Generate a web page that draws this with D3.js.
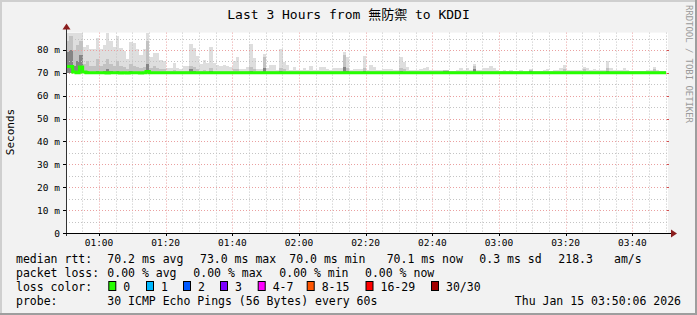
<!DOCTYPE html>
<html><head><meta charset="utf-8">
<script src="https://cdn.jsdelivr.net/npm/d3@7/dist/d3.min.js"></script>
<style>
html,body{margin:0;padding:0;background:#f2f2f2;}
svg{display:block;}
text{font-family:"DejaVu Sans Mono","Noto Sans CJK TC",monospace;fill:#000;}
</style></head><body>
<svg id="chart" width="697" height="315"></svg>
<script>
// ---------- data ----------
const titleText = "Last 3 Hours from 無防禦 to KDDI";
const yAxisTitle = "Seconds";
const watermark = "RRDTOOL / TOBI OETIKER";
const startTime = "2026-01-15T00:50:06Z";
const endTime = "2026-01-15T03:50:06Z";
const yTickValues = [0, 10, 20, 30, 40, 50, 60, 70, 80];
const yTickLabels = ["0", "10 m", "20 m", "30 m", "40 m", "50 m", "60 m", "70 m", "80 m"];
const yMinorValues = [5, 15, 25, 35, 45, 55, 65, 75, 85];

// per-minute ping distribution (ms), 180 one-minute steps
const smokeMax = [
 87.6, 87.6, 87.6, 87.6, 87.6, 81.5, 82.2, 80.5, 80.5, 85.4,
 80.5, 82.0, 87.6, 84.0, 81.5, 86.0, 80.7, 79.4, 76.0, 83.5,
 83.0, 80.5, 78.0, 80.5, 87.6, 77.0, 78.5, 78.5, 75.5, 75.3,
 72.1, 72.1, 74.2, 72.1, 71.8, 73.0, 73.0, 82.7, 80.8, 77.2,
 73.8, 75.6, 74.3, 81.2, 74.5, 73.5, 73.0, 73.4, 73.0, 72.4,
 75.0, 77.0, 71.5, 71.5, 72.6, 82.8, 76.6, 71.9, 71.8, 78.2,
 72.0, 73.4, 73.4, 71.3, 80.5, 74.9, 73.4, 71.3, 72.6, 71.3,
 71.3, 72.0, 71.3, 73.0, 71.3, 71.3, 72.6, 72.6, 71.9, 71.3,
 72.0, 72.0, 72.0, 79.3, 77.1, 71.3, 71.9, 71.6, 71.6, 77.5,
 71.3, 73.4, 72.6, 71.3, 71.3, 71.6, 71.9, 71.6, 71.3, 71.3,
 77.1, 74.9, 72.6, 71.3, 71.3, 71.3, 71.9, 72.0, 72.6, 71.3,
 71.3, 71.3, 71.3, 71.4, 71.4, 71.0, 71.0, 71.3, 72.0, 71.3,
 72.1, 71.3, 73.8, 71.3, 71.3, 72.0, 72.0, 73.0, 72.1, 71.3,
 70.6, 71.3, 70.6, 71.3, 71.0, 71.0, 71.3, 71.0, 70.6, 71.6,
 71.0, 71.0, 71.0, 71.3, 71.6, 71.0, 71.3, 71.3, 72.0, 73.4,
 71.3, 71.3, 71.3, 71.3, 71.3, 72.6, 72.0, 71.3, 71.6, 71.3,
 71.3, 71.3, 75.3, 72.0, 71.3, 71.3, 71.3, 72.0, 71.3, 70.6,
 70.6, 71.0, 70.6, 70.6, 71.3, 71.3, 72.6, 71.3, 71.0, 70.6
];
const smokeMid = [
 84.0, 86.0, 80.0, 82.0, 84.0, 74.0, 75.0, 73.0, 73.0, 76.0,
 73.0, 74.0, 76.0, 74.0, 73.0, 75.0, 73.0, 72.5, 71.5, 74.0,
 73.0, 72.5, 72.0, 72.5, 84.0, 72.0, 73.0, 72.0, 71.5, 71.5,
 70.8, 70.8, 71.2, 70.8, 70.8, 71.0, 71.0, 73.0, 72.5, 71.5,
 71.0, 71.2, 71.0, 72.0, 71.0, 71.0, 71.0, 71.0, 71.0, 71.0,
 71.5, 71.5, 70.8, 70.8, 71.0, 72.5, 71.5, 70.8, 70.8, 77.0,
 70.8, 71.0, 71.0, 70.8, 72.0, 71.5, 71.0, 70.8, 71.0, 70.8,
 70.8, 70.8, 70.8, 71.0, 70.8, 70.8, 71.0, 71.0, 70.8, 70.8,
 71.0, 71.0, 71.0, 78.0, 72.0, 70.8, 70.8, 70.8, 70.8, 72.0,
 70.8, 71.0, 71.0, 70.8, 70.8, 70.8, 70.8, 70.8, 70.8, 70.8,
 72.0, 71.5, 71.0, 70.8, 70.8, 70.8, 70.8, 71.0, 71.0, 70.8,
 70.8, 70.8, 70.8, 71.3, 71.3, 70.8, 70.8, 70.8, 71.0, 70.8,
 71.0, 70.8, 73.0, 70.8, 70.8, 71.0, 71.0, 71.0, 71.0, 70.8,
 70.6, 70.8, 70.6, 70.8, 70.8, 70.8, 70.8, 70.8, 70.6, 71.3,
 70.8, 70.8, 70.8, 70.8, 71.0, 70.8, 70.8, 70.8, 71.0, 71.5,
 70.8, 70.8, 70.8, 70.8, 70.8, 71.5, 71.0, 70.8, 71.0, 70.8,
 70.8, 70.8, 72.0, 71.0, 70.8, 70.8, 70.8, 71.0, 70.8, 70.6,
 70.6, 70.8, 70.6, 70.6, 70.8, 70.8, 71.5, 70.8, 70.8, 70.6
];
const smokeLow = [
 79.0, 80.0, 73.0, 75.0, 78.0, 71.0, 71.0, 70.5, 70.5, 71.0,
 70.5, 71.0, 71.5, 71.0, 70.5, 71.0, 70.5, 70.5, 70.5, 71.0,
 70.5, 70.5, 70.5, 70.5, 74.0, 70.5, 70.5, 70.5, 70.5, 70.5,
 70.5, 70.5, 70.5, 70.5, 70.5, 70.5, 70.5, 71.5, 71.0, 70.5,
 70.5, 70.5, 70.5, 71.0, 70.5, 70.5, 70.5, 70.5, 70.5, 70.5,
 70.5, 70.5, 70.5, 70.5, 70.5, 71.0, 70.5, 70.5, 70.5, 72.0,
 70.5, 70.5, 70.5, 70.5, 71.0, 70.5, 70.5, 70.5, 70.5, 70.5,
 70.5, 70.5, 70.5, 70.5, 70.5, 70.5, 70.5, 70.5, 70.5, 70.5,
 70.5, 70.5, 70.5, 72.5, 71.0, 70.5, 70.5, 70.5, 70.5, 71.0,
 70.5, 70.5, 70.5, 70.5, 70.5, 70.5, 70.5, 70.5, 70.5, 70.5,
 71.0, 70.5, 70.5, 70.5, 70.5, 70.5, 70.5, 70.5, 70.5, 70.5,
 70.5, 70.5, 70.5, 71.0, 71.0, 70.5, 70.5, 70.5, 70.5, 70.5,
 70.5, 70.5, 71.5, 70.5, 70.5, 70.5, 70.5, 70.5, 70.5, 70.5,
 70.5, 70.5, 70.5, 70.5, 70.5, 70.5, 70.5, 70.5, 70.5, 71.0,
 70.5, 70.5, 70.5, 70.5, 70.5, 70.5, 70.5, 70.5, 70.5, 70.5,
 70.5, 70.5, 70.5, 70.5, 70.5, 70.5, 70.5, 70.5, 70.5, 70.5,
 70.5, 70.5, 71.0, 70.5, 70.5, 70.5, 70.5, 70.5, 70.5, 70.5,
 70.5, 70.5, 70.5, 70.5, 70.5, 70.5, 70.5, 70.5, 70.5, 70.5
];
const smokeMin = [
 70.0, 70.1, 70.0, 69.9, 70.0, 70.0, 70.0, 70.0, 70.0, 70.0,
 70.0, 70.0, 69.9, 70.0, 70.0, 70.0, 69.9, 70.0, 69.9, 70.0,
 70.0, 70.0, 69.9, 70.0, 70.0, 70.0, 70.0, 70.0, 70.0, 70.0,
 70.0, 70.0, 70.0, 70.0, 70.0, 70.0, 70.0, 70.0, 70.0, 70.0,
 70.0, 70.0, 70.0, 70.0, 70.0, 70.0, 70.0, 70.0, 70.0, 70.0,
 70.0, 70.0, 70.0, 70.0, 70.0, 70.0, 70.0, 70.0, 70.0, 70.0,
 70.0, 70.0, 70.0, 70.0, 70.0, 70.0, 70.0, 70.0, 70.0, 70.0,
 70.0, 70.0, 70.0, 70.0, 70.0, 70.0, 70.0, 70.0, 70.0, 70.0,
 70.0, 70.0, 70.0, 70.0, 70.0, 70.0, 70.0, 70.0, 70.0, 70.0,
 70.0, 70.0, 70.0, 70.0, 70.0, 70.0, 70.0, 70.0, 70.0, 70.0,
 70.0, 70.0, 70.0, 70.0, 70.0, 70.0, 70.0, 70.0, 70.0, 70.0,
 70.0, 70.0, 70.0, 70.0, 70.0, 70.0, 70.0, 70.0, 70.0, 70.0,
 70.0, 70.0, 70.0, 70.0, 70.0, 70.0, 70.0, 70.0, 70.0, 70.0,
 70.0, 70.0, 70.0, 70.0, 70.0, 70.0, 70.0, 70.0, 70.0, 70.0,
 70.0, 70.0, 70.0, 70.0, 70.0, 70.0, 70.0, 70.0, 70.0, 70.0,
 70.0, 70.0, 70.0, 70.0, 70.0, 70.0, 70.0, 70.0, 70.0, 70.0,
 70.0, 70.0, 70.0, 70.0, 70.0, 70.0, 70.0, 70.0, 70.0, 70.0,
 70.0, 70.0, 70.0, 70.0, 70.0, 70.0, 70.0, 70.0, 70.0, 70.0
];
const medianRtt = [
 72.8, 72.8, 70.4, 70.0, 72.6, 70.4, 70.0, 70.0, 70.0, 70.0,
 70.0, 70.0, 69.9, 70.0, 70.0, 70.0, 69.9, 70.0, 69.9, 70.0,
 70.0, 70.0, 69.9, 70.0, 70.6, 70.0, 70.0, 70.0, 70.0, 70.0,
 70.0, 70.0, 70.0, 70.0, 70.0, 70.0, 70.0, 70.0, 70.0, 70.0,
 70.0, 70.0, 70.0, 70.0, 70.0, 70.0, 70.0, 70.0, 70.0, 70.0,
 70.0, 70.0, 70.0, 70.0, 70.0, 70.0, 70.0, 70.0, 70.0, 70.0,
 70.0, 70.0, 70.0, 70.0, 70.0, 70.0, 70.0, 70.0, 70.0, 70.0,
 70.0, 70.0, 70.0, 70.0, 70.0, 70.0, 70.0, 70.0, 70.0, 70.0,
 70.0, 70.0, 70.0, 70.0, 70.0, 70.0, 70.0, 70.0, 70.0, 70.0,
 70.0, 70.0, 70.0, 70.0, 70.0, 70.0, 70.0, 70.0, 70.0, 70.0,
 70.0, 70.0, 70.0, 70.0, 70.0, 70.0, 70.0, 70.0, 70.0, 70.0,
 70.0, 70.0, 70.0, 70.0, 70.0, 70.0, 70.0, 70.0, 70.0, 70.0,
 70.0, 70.0, 70.0, 70.0, 70.0, 70.0, 70.0, 70.0, 70.0, 70.0,
 70.0, 70.0, 70.0, 70.0, 70.0, 70.0, 70.0, 70.0, 70.0, 70.0,
 70.0, 70.0, 70.0, 70.0, 70.0, 70.0, 70.0, 70.0, 70.0, 70.0,
 70.0, 70.0, 70.0, 70.0, 70.0, 70.0, 70.0, 70.0, 70.0, 70.0,
 70.0, 70.0, 70.0, 70.0, 70.0, 70.0, 70.0, 70.0, 70.0, 70.0,
 70.0, 70.0, 70.0, 70.0, 70.0, 70.0, 70.0, 70.0, 70.0, 70.1
];

// legend content
const legendRows = [
  {label: "median rtt:", items: ["70.2 ms avg", "73.0 ms max", "70.0 ms min", "70.1 ms now", "0.3 ms sd", "218.3", "am/s"]},
  {label: "packet loss:", items: ["0.00 % avg", "0.00 % max", "0.00 % min", "0.00 % now"]},
  {label: "probe:", items: ["30 ICMP Echo Pings (56 Bytes) every 60s"]}
];
const lossLabels = ["0", "1", "2", "3", "4-7", "8-15", "16-29", "30/30"];
const lossColors = ["#26ff00", "#00b8ff", "#0059ff", "#7e00ff", "#ff00ff", "#ff5500", "#ff0000", "#a10000"];
const dateStamp = "Thu Jan 15 03:50:06 2026";

// ---------- layout ----------
const W = 697, H = 315;
const plot = {left: 66, right: 666, top: 32.6, bottom: 233};
const svg = d3.select("#chart");

const t0 = new Date(startTime), t1 = new Date(endTime);
const x = d3.scaleUtc().domain([t0, t1]).range([plot.left, plot.right]);
const y = d3.scaleLinear().domain([0, 87.6]).range([plot.bottom, plot.top]);
const colTimes = d3.range(smokeMax.length + 1).map(i => new Date(+t0 + i * 60000));

// background + 3D frame
svg.append("rect").attr("width", W).attr("height", H).attr("fill", "#f2f2f2");
svg.append("path").attr("d", `M0,${H} V0 H${W}`).attr("fill", "none").attr("stroke", "#cfcfcf").attr("stroke-width", 4);
svg.append("path").attr("d", `M0,${H} H${W} V0`).attr("fill", "none").attr("stroke", "#9e9e9e").attr("stroke-width", 4);

// canvas
svg.append("rect").attr("x", plot.left).attr("y", plot.top)
  .attr("width", plot.right - plot.left + 2).attr("height", plot.bottom - plot.top).attr("fill", "#fff");

// smoke
const smoke = svg.append("g").attr("shape-rendering", "crispEdges");
const layers = [
  {top: smokeMax, color: "#dedede"},
  {top: smokeMid, color: "#c2c2c2"},
  {top: smokeLow, color: "#858585"}
];
layers.forEach(L => {
  smoke.append("g").selectAll("rect").data(L.top).join("rect")
    .attr("x", (d, i) => x(colTimes[i]))
    .attr("width", (d, i) => x(colTimes[i + 1]) - x(colTimes[i]))
    .attr("y", d => y(d))
    .attr("height", (d, i) => Math.max(0, y(smokeMin[i]) - y(d)))
    .attr("fill", L.color);
});

// grid
const grid = svg.append("g");
const minorTimes = d3.utcMinute.every(5).range(t0, t1).filter(d => d.getUTCMinutes() % 20 !== 0);
const majorTimes = d3.utcMinute.every(20).range(t0, t1);
grid.selectAll(".vmin").data(minorTimes).join("line")
  .attr("x1", d => Math.round(x(d)) + 0.5).attr("x2", d => Math.round(x(d)) + 0.5)
  .attr("y1", plot.top).attr("y2", plot.bottom)
  .attr("stroke", "#c4c4c4").attr("stroke-dasharray", "1,2");
grid.selectAll(".hmin").data(yMinorValues).join("line")
  .attr("x1", plot.left).attr("x2", plot.right + 2)
  .attr("y1", d => Math.round(y(d)) + 0.5).attr("y2", d => Math.round(y(d)) + 0.5)
  .attr("stroke", "#c4c4c4").attr("stroke-dasharray", "1,2");
grid.selectAll(".vmaj").data(majorTimes).join("line")
  .attr("x1", d => Math.round(x(d)) + 0.5).attr("x2", d => Math.round(x(d)) + 0.5)
  .attr("y1", plot.top).attr("y2", plot.bottom)
  .attr("stroke", "#eaa0a0").attr("stroke-dasharray", "1,2");
grid.selectAll(".hmaj").data(yTickValues.slice(1)).join("line")
  .attr("x1", plot.left).attr("x2", plot.right + 2)
  .attr("y1", d => Math.round(y(d)) + 0.5).attr("y2", d => Math.round(y(d)) + 0.5)
  .attr("stroke", "#eaa0a0").attr("stroke-dasharray", "1,2");
// right-end ticks
grid.selectAll(".rt").data(yTickValues.slice(1)).join("line")
  .attr("x1", plot.right + 1).attr("x2", plot.right + 3)
  .attr("y1", d => Math.round(y(d)) + 0.5).attr("y2", d => Math.round(y(d)) + 0.5)
  .attr("stroke", "#d05050");

// median line
const medLine = d3.line().curve(d3.curveStepAfter)
  .x(d => x(d[0])).y(d => y(d[1]));
const medPts = medianRtt.map((v, i) => [colTimes[i], v]);
medPts.push([colTimes[medianRtt.length], medianRtt[medianRtt.length - 1]]);
svg.append("path").attr("d", medLine(medPts)).attr("fill", "none")
  .attr("stroke", "#26ff00").attr("stroke-width", 3);

// axes
const axisG = svg.append("g");
axisG.append("line").attr("x1", plot.left + 0.5).attr("x2", plot.left + 0.5)
  .attr("y1", plot.bottom + 3).attr("y2", plot.top - 4).attr("stroke", "#333");
axisG.append("line").attr("x1", plot.left - 3).attr("x2", plot.right + 5)
  .attr("y1", plot.bottom + 0.5).attr("y2", plot.bottom + 0.5).attr("stroke", "#000");
axisG.append("path").attr("d", `M${plot.left - 3.5},${plot.top - 3} L${plot.left + 0.5},${plot.top - 9} L${plot.left + 4.5},${plot.top - 3} Z`).attr("fill", "#8b1e1e");
axisG.append("path").attr("d", `M${plot.right + 5},${plot.bottom - 3.5} L${plot.right + 11},${plot.bottom + 0.5} L${plot.right + 5},${plot.bottom + 4.5} Z`).attr("fill", "#8b1e1e");

// y tick labels + left ticks
const yl = svg.append("g");
yl.selectAll("line").data(yTickValues).join("line")
  .attr("x1", plot.left - 3).attr("x2", plot.left)
  .attr("y1", d => Math.round(y(d)) + 0.5).attr("y2", d => Math.round(y(d)) + 0.5)
  .attr("stroke", "#000");
yl.selectAll("text").data(yTickValues).join("text")
  .attr("x", 60).attr("y", d => y(d) + 3.5)
  .attr("text-anchor", "end").attr("font-size", "9.5px")
  .text((d, i) => yTickLabels[i]);

// x tick labels
const xl = svg.append("g");
xl.selectAll("line").data(majorTimes).join("line")
  .attr("x1", d => Math.round(x(d)) + 0.5).attr("x2", d => Math.round(x(d)) + 0.5)
  .attr("y1", plot.bottom).attr("y2", plot.bottom + 3).attr("stroke", "#000");
xl.selectAll("text").data(majorTimes).join("text")
  .attr("x", d => x(d)).attr("y", 246)
  .attr("text-anchor", "middle").attr("font-size", "9.5px")
  .text(d => d3.utcFormat("%H:%M")(d));

// titles
svg.append("text").attr("x", 348.5).attr("y", 19).attr("text-anchor", "middle")
  .attr("font-size", "13px").text(titleText);
svg.append("text").attr("transform", "translate(14,132) rotate(-90)")
  .attr("text-anchor", "middle").attr("font-size", "11px").text(yAxisTitle);
svg.append("text").attr("transform", "translate(686,5) rotate(90)")
  .attr("font-size", "9px").style("fill", "#9a9a9a")
  .attr("textLength", 118).attr("lengthAdjust", "spacing").text(watermark);

// legend
const lg = svg.append("g").attr("font-size", "11.5px");
const lx0 = 16;
const row1X = [107.3, 200, 289.3, 386.7, 479.3, 558.3, 614];
const row2X = [107.3, 193.3, 279.3, 365];
const rowY = [263, 277, 291, 305];
lg.append("text").attr("x", lx0).attr("y", rowY[0]).text(legendRows[0].label);
legendRows[0].items.forEach((t, i) => lg.append("text").attr("x", row1X[i]).attr("y", rowY[0]).text(t));
lg.append("text").attr("x", lx0).attr("y", rowY[1]).text(legendRows[1].label);
legendRows[1].items.forEach((t, i) => lg.append("text").attr("x", row2X[i]).attr("y", rowY[1]).text(t));
lg.append("text").attr("x", lx0).attr("y", rowY[2]).text("loss color:");
const boxX = [108.3, 146, 183, 220, 257.7, 306.7, 365.5, 431];
lossLabels.forEach((t, i) => {
  lg.append("rect").attr("x", boxX[i] + 0.5).attr("y", rowY[2] - 9.5).attr("width", 7).attr("height", 9)
    .attr("fill", lossColors[i]).attr("stroke", "#000").attr("stroke-width", 1);
  lg.append("text").attr("x", boxX[i] + 15).attr("y", rowY[2]).text(t);
});
lg.append("text").attr("x", lx0).attr("y", rowY[3]).text(legendRows[2].label);
lg.append("text").attr("x", 107.3).attr("y", rowY[3]).text(legendRows[2].items[0]);
lg.append("text").attr("x", 681).attr("y", rowY[3]).attr("text-anchor", "end").text(dateStamp);
</script>
</body></html>
